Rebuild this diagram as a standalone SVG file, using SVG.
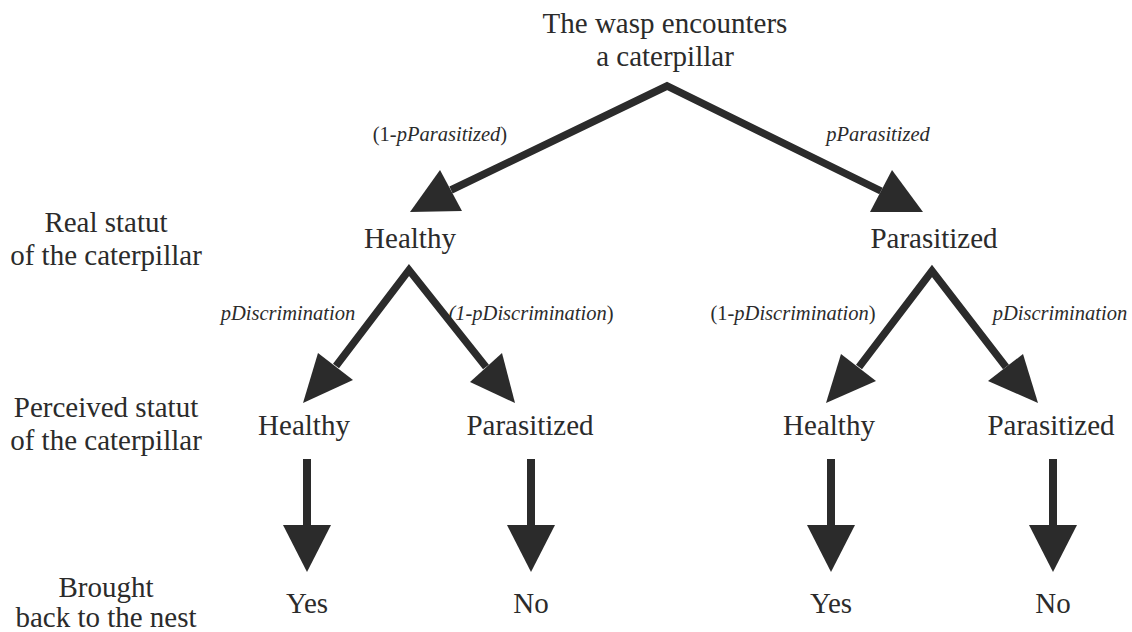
<svg xmlns="http://www.w3.org/2000/svg" width="1132" height="632" viewBox="0 0 1132 632">
<style>
text{font-family:"Liberation Serif","Times New Roman",serif;fill:#2b2b2b;text-anchor:middle}
.n{font-size:29px}
.l{font-size:20.5px}
.i{font-style:italic}
.ln{stroke:#2b2b2b;stroke-width:7.5;fill:none}
.hd{fill:#2b2b2b}
</style>
<rect width="1132" height="632" fill="#fff"/>
<g id="connectors">
<path class="ln" d="M451,190 L667,86 L881,191"/>
<polygon class="hd" points="410,212 440,170 462,211"/>
<polygon class="hd" points="923,212 892,170 870,212"/>
<path class="ln" d="M336,366 L409,270 L486,367"/>
<polygon class="hd" points="303,403 318,353 353,380"/>
<polygon class="hd" points="515,403 470,382 502,353"/>
<path class="ln" d="M859,367 L932,271 L1006,367"/>
<polygon class="hd" points="826,403 841,354 876,381"/>
<polygon class="hd" points="1038,403 988,381 1023,354"/>
<g class="ln" style="stroke-width:8">
<line x1="307" y1="459" x2="307" y2="528"/>
<line x1="531" y1="459" x2="531" y2="528"/>
<line x1="831" y1="459" x2="831" y2="528"/>
<line x1="1053" y1="459" x2="1053" y2="528"/>
</g>
<polygon class="hd" points="283,525 331,525 307,572"/>
<polygon class="hd" points="507,525 555,525 531,572"/>
<polygon class="hd" points="807,525 855,525 831,572"/>
<polygon class="hd" points="1029,525 1077,525 1053,572"/>
<text class="l" x="440" y="141">(1-<tspan class="i">pParasitized</tspan>)</text>
<text class="l i" x="878" y="141">pParasitized</text>
<text class="l i" x="288" y="320">pDiscrimination</text>
<text class="l" x="531" y="320"><tspan class="i">(1-pDiscrimination</tspan>)</text>
<text class="l" x="793" y="320">(1-<tspan class="i">pDiscrimination</tspan>)</text>
<text class="l i" x="1060" y="320">pDiscrimination</text>
</g>
<g id="root"><text class="n" x="665" y="33">The wasp encounters</text><text class="n" x="665" y="66">a caterpillar</text></g>
<g id="real-healthy"><text class="n" x="410" y="248">Healthy</text></g>
<g id="real-parasitized"><text class="n" x="934" y="248">Parasitized</text></g>
<g id="perc-h-h"><text class="n" x="304" y="435">Healthy</text></g>
<g id="perc-h-p"><text class="n" x="530" y="435">Parasitized</text></g>
<g id="perc-p-h"><text class="n" x="829" y="435">Healthy</text></g>
<g id="perc-p-p"><text class="n" x="1051" y="435">Parasitized</text></g>
<g id="yes1"><text class="n" x="307" y="613">Yes</text></g>
<g id="no1"><text class="n" x="531" y="613">No</text></g>
<g id="yes2"><text class="n" x="831" y="613">Yes</text></g>
<g id="no2"><text class="n" x="1053" y="613">No</text></g>
<g id="row-real"><text class="n" x="106" y="232">Real statut</text><text class="n" x="106" y="265">of the caterpillar</text></g>
<g id="row-perceived"><text class="n" x="106" y="417">Perceived statut</text><text class="n" x="106" y="450">of the caterpillar</text></g>
<g id="row-brought"><text class="n" x="106" y="597">Brought</text><text class="n" x="106" y="627">back to the nest</text></g>
</svg>
